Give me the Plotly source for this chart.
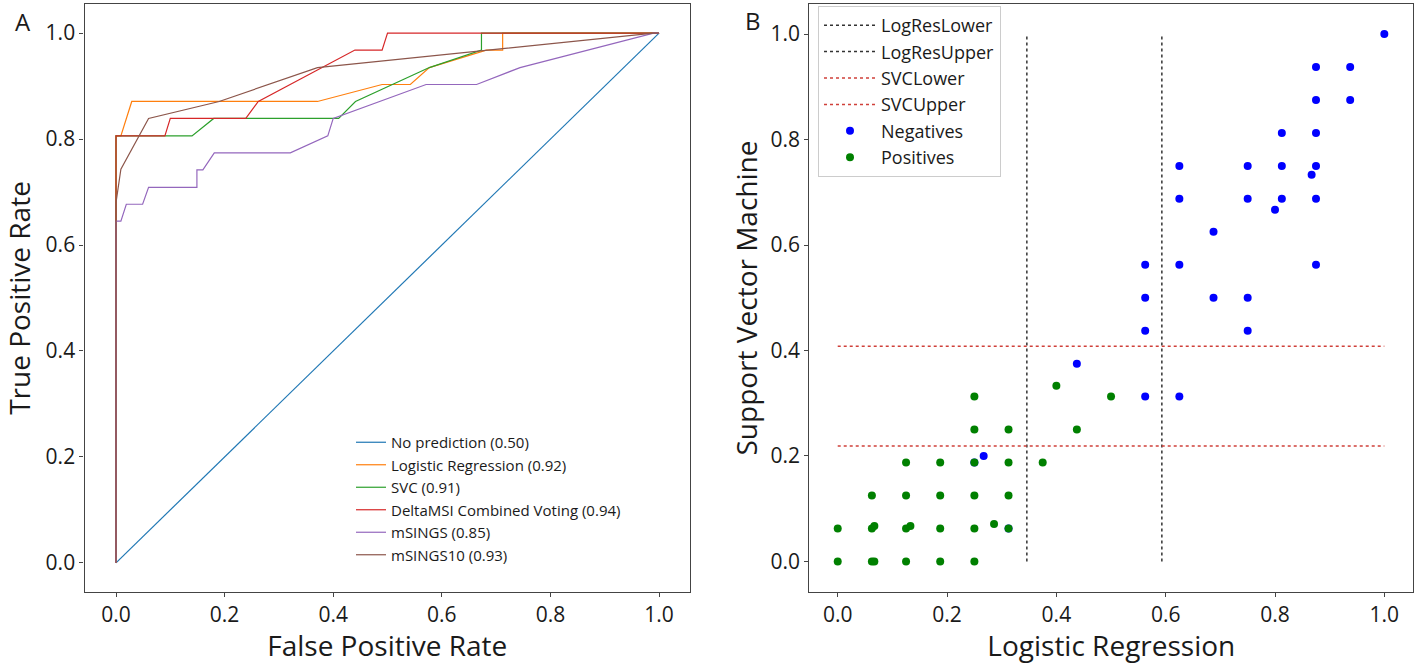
import plotly.graph_objs as go

# ---- Panel A: ROC curves ----
no_pred_fpr = [0.0, 1.0]
no_pred_tpr = [0.0, 1.0]

lr_fpr = [0.0, 0.0, 0.009, 0.029, 0.371, 0.49, 0.542, 0.577, 0.682, 0.712, 0.712, 1.0]
lr_tpr = [0.0, 0.806, 0.806, 0.871, 0.871, 0.903, 0.903, 0.935, 0.968, 0.968, 1.0, 1.0]

svc_fpr = [0.0, 0.0, 0.14, 0.18, 0.41, 0.441, 0.577, 0.673, 0.673, 1.0]
svc_tpr = [0.0, 0.806, 0.806, 0.839, 0.839, 0.871, 0.935, 0.968, 1.0, 1.0]

delta_fpr = [0.0, 0.0, 0.09, 0.10, 0.239, 0.262, 0.44, 0.49, 0.50, 1.0]
delta_tpr = [0.0, 0.806, 0.806, 0.839, 0.839, 0.871, 0.968, 0.968, 1.0, 1.0]

msings_fpr = [0.0, 0.0, 0.009, 0.019, 0.049, 0.06, 0.149, 0.149, 0.16, 0.181, 0.321,
              0.39, 0.40, 0.571, 0.664, 0.744, 0.99, 1.0]
msings_tpr = [0.0, 0.645, 0.645, 0.677, 0.677, 0.709, 0.709, 0.742, 0.742, 0.774, 0.774,
              0.806, 0.839, 0.903, 0.903, 0.935, 1.0, 1.0]

msings10_fpr = [0.0, 0.0, 0.009, 0.06, 0.19, 0.371, 0.99, 1.0]
msings10_tpr = [0.0, 0.68, 0.743, 0.839, 0.871, 0.935, 1.0, 1.0]

roc_names = ["No prediction (0.50)", "Logistic Regression (0.92)", "SVC (0.91)",
             "DeltaMSI Combined Voting (0.94)", "mSINGS (0.85)", "mSINGS10 (0.93)"]
roc_colors = ["#1f77b4", "#ff7f0e", "#2ca02c", "#d62728", "#9467bd", "#8c564b"]

# ---- Panel B: scatter of model scores ----
logres_lower = 0.346
logres_upper = 0.593
svc_lower = 0.219
svc_upper = 0.408

neg_x = [1.0, 0.875, 0.9375, 0.875, 0.9375, 0.8125, 0.875, 0.625, 0.75, 0.8125, 0.875, 0.867,
         0.625, 0.75, 0.8125, 0.875, 0.8, 0.6875, 0.5625, 0.625, 0.875, 0.5625, 0.6875, 0.75,
         0.5625, 0.75, 0.4375, 0.5625, 0.625, 0.267, 0.25, 0.3125]
neg_y = [1.0, 0.9375, 0.9375, 0.875, 0.875, 0.8125, 0.8125, 0.75, 0.75, 0.75, 0.75, 0.733,
         0.6875, 0.6875, 0.6875, 0.6875, 0.667, 0.625, 0.5625, 0.5625, 0.5625, 0.5, 0.5, 0.5,
         0.4375, 0.4375, 0.375, 0.3125, 0.3125, 0.2, 0.1875, 0.0625]

pos_x = [0.25, 0.25, 0.3125, 0.125, 0.1875, 0.25, 0.3125, 0.375, 0.0625, 0.125, 0.1875, 0.25,
         0.3125, 0.0, 0.0625, 0.067, 0.125, 0.133, 0.1875, 0.25, 0.286, 0.3125, 0.0, 0.0625,
         0.067, 0.125, 0.1875, 0.25, 0.4, 0.5, 0.4375]
pos_y = [0.3125, 0.25, 0.25, 0.1875, 0.1875, 0.1875, 0.1875, 0.1875, 0.125, 0.125, 0.125, 0.125,
         0.125, 0.0625, 0.0625, 0.067, 0.0625, 0.067, 0.0625, 0.0625, 0.071, 0.0625, 0.0, 0.0,
         0.0, 0.0, 0.0, 0.0, 0.333, 0.3125, 0.25]

ticks = [0.0, 0.2, 0.4, 0.6, 0.8, 1.0]
tick_text = ["0.0", "0.2", "0.4", "0.6", "0.8", "1.0"]

FONT = "Open Sans, Segoe UI, sans-serif"
TXT = "#1a1a1a"
W, H = 1416, 664

fig = go.Figure()

roc_x = [no_pred_fpr, lr_fpr, svc_fpr, delta_fpr, msings_fpr, msings10_fpr]
roc_y = [no_pred_tpr, lr_tpr, svc_tpr, delta_tpr, msings_tpr, msings10_tpr]
for xs, ys, name, col in zip(roc_x, roc_y, roc_names, roc_colors):
    fig.add_trace(go.Scatter(x=xs, y=ys, mode="lines", name=name,
                             line=dict(color=col, width=1.2),
                             xaxis="x", yaxis="y", legend="legend"))

for val, name, col in [(logres_lower, "LogResLower", "#333333"),
                       (logres_upper, "LogResUpper", "#333333")]:
    fig.add_trace(go.Scatter(x=[val, val], y=[0.0, 1.0], mode="lines", name=name,
                             line=dict(color=col, width=1.5, dash="dot"),
                             xaxis="x2", yaxis="y2", legend="legend2"))
for val, name, col in [(svc_lower, "SVCLower", "#d0403a"),
                       (svc_upper, "SVCUpper", "#d0403a")]:
    fig.add_trace(go.Scatter(x=[0.0, 1.0], y=[val, val], mode="lines", name=name,
                             line=dict(color=col, width=1.5, dash="dot"),
                             xaxis="x2", yaxis="y2", legend="legend2"))

fig.add_trace(go.Scatter(x=neg_x, y=neg_y, mode="markers", name="Negatives",
                         marker=dict(color="#0000ff", size=8),
                         xaxis="x2", yaxis="y2", legend="legend2"))
fig.add_trace(go.Scatter(x=pos_x, y=pos_y, mode="markers", name="Positives",
                         marker=dict(color="#008000", size=8),
                         xaxis="x2", yaxis="y2", legend="legend2"))

axis_style = dict(showline=True, mirror=True, linecolor="#444444", linewidth=1.3,
                  ticks="outside", ticklen=4, tickcolor="#444444",
                  showgrid=False, zeroline=False,
                  tickvals=ticks, ticktext=tick_text,
                  tickfont=dict(family=FONT, size=21, color=TXT),
                  title_font=dict(family=FONT, size=28, color=TXT))

fig.update_layout(
    width=W, height=H,
    margin=dict(l=0, r=0, t=0, b=0),
    paper_bgcolor="white", plot_bgcolor="white",
    font=dict(family=FONT, color=TXT),
    xaxis=dict(axis_style, domain=[84.5 / W, 690 / W], range=[-0.058, 1.057],
               title=dict(text="False Positive Rate", standoff=8)),
    yaxis=dict(axis_style, domain=[1 - 592 / H, 1 - 4 / H], range=[-0.055, 1.055],
               title=dict(text="True Positive Rate", standoff=8)),
    xaxis2=dict(axis_style, domain=[809.3 / W, 1413.3 / W], range=[-0.052, 1.053],
                title=dict(text="Logistic Regression", standoff=8)),
    yaxis2=dict(axis_style, anchor="x2", domain=[1 - 592 / H, 1 - 4 / H], range=[-0.058, 1.057],
                title=dict(text="Support Vector Machine", standoff=4)),
    legend=dict(x=351 / W, y=1 - 426 / H, xanchor="left", yanchor="top",
                bgcolor="rgba(0,0,0,0)", borderwidth=0,
                font=dict(family=FONT, size=15, color=TXT)),
    legend2=dict(x=818 / W, y=1 - 6 / H, xanchor="left", yanchor="top",
                 bgcolor="white", bordercolor="#cccccc", borderwidth=1,
                 itemwidth=52,
                 font=dict(family=FONT, size=18, color=TXT)),
    annotations=[
        dict(text="A", x=23 / W, y=1 - 22 / H, xref="paper", yref="paper",
             xanchor="center", yanchor="middle",
             showarrow=False, font=dict(family=FONT, size=24, color=TXT)),
        dict(text="B", x=753 / W, y=1 - 21 / H, xref="paper", yref="paper",
             xanchor="center", yanchor="middle",
             showarrow=False, font=dict(family=FONT, size=24, color=TXT)),
    ],
)

fig.write_html("out.html", config={"displayModeBar": False},
               post_script="document.body.style.margin='0';")
